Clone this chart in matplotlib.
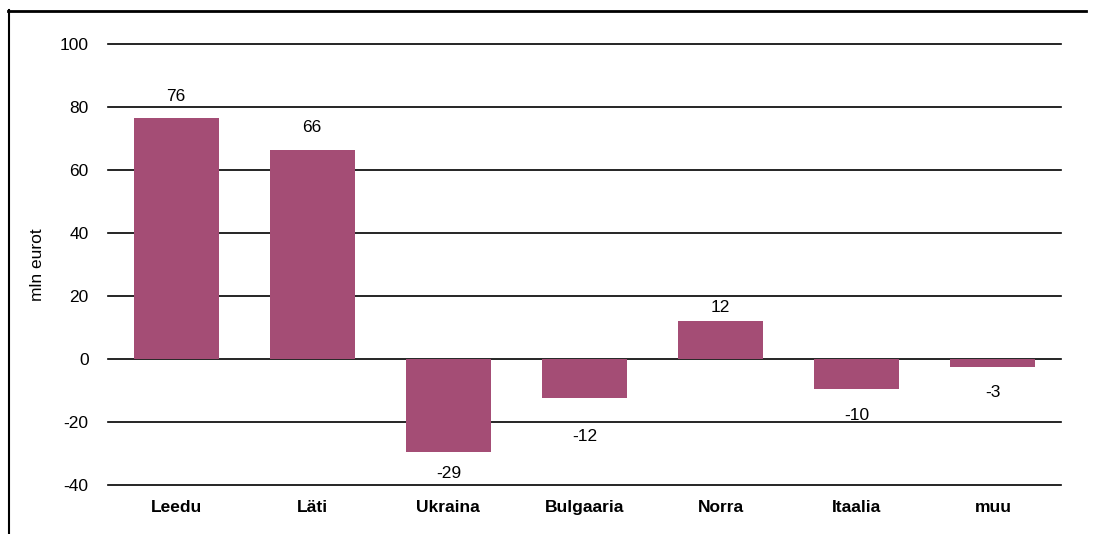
import matplotlib.pyplot as plt
from matplotlib.lines import Line2D

# ---------------  Data  ------------
countries = ['Leedu', 'Läti', 'Ukraina', 'Bulgaaria', 'Norra', 'Itaalia', 'muu']
values = [76.4, 66.2, -29.4, -12.3, 12.0, -9.6, -2.6]
yticks = [-40, -20, 0, 20, 40, 60, 80, 100]

# label distance from bar end, in pixels (as in the original layout)
label_gap = [22, 23, 22, 39, 14, 26, 25]

bar_color = '#a44d75'
plt.rcParams['font.family'] = ['Liberation Sans', 'DejaVu Sans']

fig = plt.figure(figsize=(10.94, 5.34), dpi=100)
ax = fig.add_axes([108 / 1094, 1 - 485 / 534, 953 / 1094, 441 / 534])

x = range(len(countries))
ax.bar(x, values, width=0.625, color=bar_color, zorder=3)

# horizontal grid lines
for t in yticks:
    ax.axhline(t, color='black', lw=1.2, zorder=2, clip_on=False)

# value labels
for i, v in enumerate(values):
    off = label_gap[i] * 0.72
    ax.annotate(f'{v:.0f}', (i, v), xytext=(0, off if v >= 0 else -off),
                textcoords='offset points', ha='center', va='center',
                fontsize=12.5, color='black', zorder=4)

ax.set_xlim(-0.5, len(countries) - 0.5)
ax.set_ylim(-40, 100)
ax.set_yticks(yticks)
ax.set_yticklabels([str(t) for t in yticks], fontsize=12.5)
ax.set_xticks(list(x))
ax.set_xticklabels(countries, fontsize=12.5, fontweight='bold')
ax.tick_params(axis='y', length=0, pad=14)
ax.tick_params(axis='x', length=0, pad=11)
for s in ax.spines.values():
    s.set_visible(False)
ax.set_ylabel('mln eurot', fontsize=12.5)
ax.yaxis.set_label_coords(-63 / 953, 0.5)

# frame lines at the top and left edge
fig.add_artist(Line2D([8 / 1094, 1086 / 1094], [1 - 11 / 534, 1 - 11 / 534],
                      transform=fig.transFigure, color='black', lw=2))
fig.add_artist(Line2D([8.5 / 1094, 8.5 / 1094], [0, 1 - 10 / 534],
                      transform=fig.transFigure, color='black', lw=1.5))

fig.savefig('out.png', dpi=100)
